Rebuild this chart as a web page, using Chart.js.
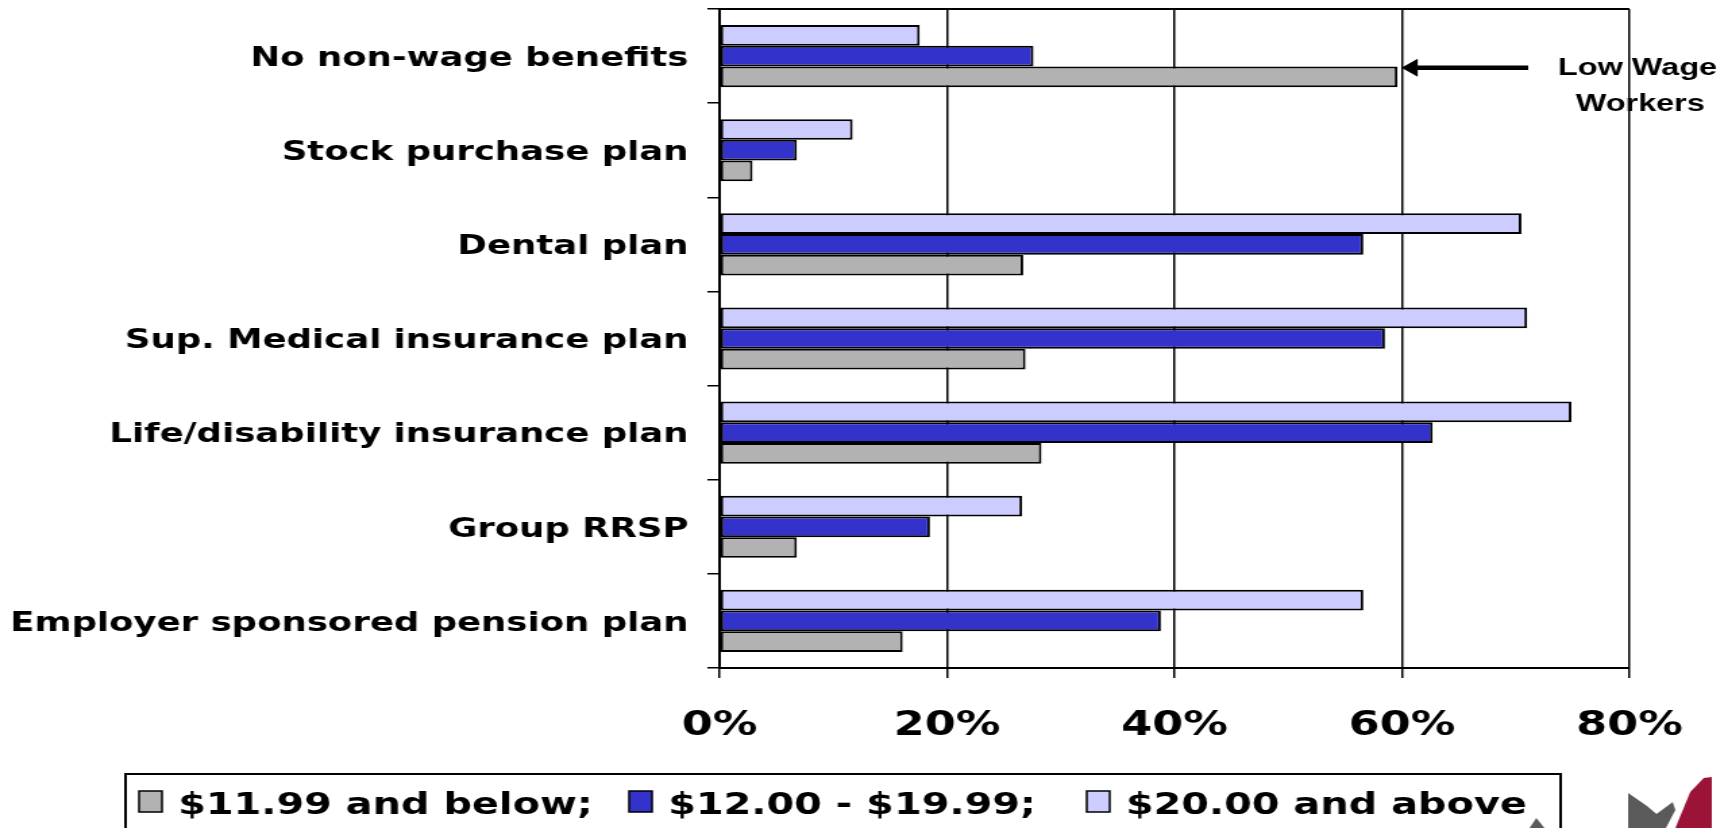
<!DOCTYPE html>
<html lang="en">
<head>
<meta charset="UTF-8">
<meta name="viewport" content="width=device-width, initial-scale=1.0">
<title>Non-wage benefits by hourly wage</title>
<script src="https://cdn.jsdelivr.net/npm/chart.js"></script>
<style>
    html, body {
        margin: 0;
        padding: 0;
        background: #fff;
        overflow: hidden;
    }
    /* the whole chart is drawn narrow and stretched sideways */
    #wrap {
        width: 1283px;
        height: 828px;
        transform: scaleX(1.35);
        transform-origin: 0 0;
    }
</style>
</head>
<body>
<div id="wrap"><canvas id="benefits" width="1283" height="828"></canvas></div>
<script>
    const benefits = [
        'No non-wage benefits',
        'Stock purchase plan',
        'Dental plan',
        'Sup. Medical insurance plan',
        'Life/disability insurance plan',
        'Group RRSP',
        'Employer sponsored pension plan'
    ];
    const wageLow  = [59.6, 2.9, 26.7, 26.9, 28.3, 6.8, 16.1];
    const wageMid  = [27.6, 6.8, 56.6, 58.5, 62.7, 18.5, 38.8];
    const wageHigh = [17.6, 11.7, 70.5, 71.0, 74.9, 26.6, 56.6];
    const wageGroups = ['$11.99 and below', '$12.00 - $19.99', '$20.00 and above'];
    const pctTicks = [0, 20, 40, 60, 80];
    const calloutText = ['Low Wage', 'Workers'];

    const FONT = '"DejaVu Sans", Verdana, sans-serif';

    // callout, legend box, top border and logo
    const decorations = {
        id: 'decorations',
        beforeDraw(chart) {
            // drawn first so the right frame line runs over the text
            const ctx = chart.ctx;
            ctx.save();
            ctx.fillStyle = '#000';
            ctx.font = 'bold 24px "Liberation Sans", Arial, sans-serif';
            ctx.textAlign = 'center';
            ctx.textBaseline = 'middle';
            ctx.fillText(calloutText[0], 1213, 68);
            ctx.fillText(calloutText[1], 1215, 104);
            ctx.restore();
        },
        afterDraw(chart) {
            const { ctx, chartArea } = chart;
            ctx.save();

            // top frame line
            ctx.strokeStyle = '#000';
            ctx.lineWidth = 2;
            ctx.beginPath();
            ctx.moveTo(chartArea.left, chartArea.top);
            ctx.lineTo(chartArea.right, chartArea.top);
            ctx.stroke();

            // arrow pointing at the low wage bar
            const bar = chart.getDatasetMeta(2).data[0];
            const ay = bar.y - 9;
            const tip = bar.x + 3;
            ctx.lineWidth = 4.5;
            ctx.beginPath();
            ctx.moveTo(1132, ay);
            ctx.lineTo(tip + 8, ay);
            ctx.stroke();
            ctx.fillStyle = '#000';
            ctx.beginPath();
            ctx.moveTo(tip, ay);
            ctx.lineTo(tip + 12, ay - 9);
            ctx.lineTo(tip + 12, ay + 9);
            ctx.closePath();
            ctx.fill();

            // legend
            ctx.lineWidth = 2;
            ctx.strokeRect(93, 774, 1063, 80);
            ctx.font = 'bold 29.5px ' + FONT;
            ctx.textBaseline = 'middle';
            ctx.textAlign = 'left';
            const slots = [103, 466, 805];
            const order = [2, 1, 0];
            order.forEach((di, k) => {
                const ds = chart.data.datasets[di];
                const lx = slots[k];
                ctx.fillStyle = ds.backgroundColor;
                ctx.fillRect(lx, 791, 17, 21);
                ctx.lineWidth = 1.5;
                ctx.strokeRect(lx, 791, 17, 21);
                const text = ds.label + (k < order.length - 1 ? ';' : '');
                ctx.fillStyle = '#000';
                ctx.fillText(text, lx + 29, 806);
            });

            // logo corner
            ctx.fillStyle = '#5a5a5a';
            ctx.beginPath();
            ctx.moveTo(1206, 828);
            ctx.lineTo(1206, 793);
            ctx.lineTo(1220, 806);
            ctx.lineTo(1227, 814);
            ctx.lineTo(1239, 802);
            ctx.lineTo(1241, 810);
            ctx.lineTo(1234, 828);
            ctx.closePath();
            ctx.fill();
            ctx.beginPath();
            ctx.moveTo(1133, 828);
            ctx.lineTo(1138, 818);
            ctx.lineTo(1144, 828);
            ctx.closePath();
            ctx.fill();
            ctx.fillStyle = '#9b1438';
            ctx.beginPath();
            ctx.moveTo(1241, 828);
            ctx.lineTo(1252, 792);
            ctx.lineTo(1262, 778);
            ctx.lineTo(1268, 777);
            ctx.lineTo(1268, 828);
            ctx.closePath();
            ctx.fill();

            ctx.restore();
        }
    };

    new Chart(document.getElementById('benefits'), {
        type: 'bar',
        data: {
            labels: benefits,
            datasets: [
                { label: wageGroups[2], data: wageHigh, backgroundColor: '#ccccff' },
                { label: wageGroups[1], data: wageMid, backgroundColor: '#3333cc' },
                { label: wageGroups[0], data: wageLow, backgroundColor: '#b2b2b2' }
            ]
        },
        options: {
            indexAxis: 'y',
            responsive: false,
            animation: false,
            layout: { padding: { top: 9, right: 76, bottom: 0, left: 0 } },
            datasets: {
                bar: {
                    barPercentage: 1,
                    categoryPercentage: 0.66,
                    borderColor: '#000',
                    borderWidth: 2,
                    borderSkipped: false
                }
            },
            scales: {
                x: {
                    min: 0,
                    max: 80,
                    afterBuildTicks(axis) {
                        axis.ticks = pctTicks.map(v => ({ value: v }));
                    },
                    afterFit(axis) { axis.height = 160; },
                    grid: { color: '#000', lineWidth: 1.5, tickLength: 10 },
                    border: { color: '#000', width: 2 },
                    ticks: {
                        color: '#000',
                        padding: 29,
                        maxRotation: 0,
                        font: { family: FONT, weight: 'bold', size: 33 },
                        callback: v => v + '%'
                    }
                },
                y: {
                    afterFit(axis) {
                        axis.width = 533;
                        axis.paddingTop = 0;
                        axis.paddingBottom = 0;
                    },
                    grid: { offset: true, drawOnChartArea: false, color: '#000', lineWidth: 1.5, tickLength: 9 },
                    border: { color: '#000', width: 2 },
                    ticks: {
                        color: '#000',
                        padding: 14,
                        labelOffset: 3,
                        font: { family: FONT, weight: 'bold', size: 26.3 }
                    }
                }
            },
            plugins: {
                legend: { display: false },
                tooltip: { enabled: false }
            }
        },
        plugins: [decorations]
    });
</script>
</body>
</html>
